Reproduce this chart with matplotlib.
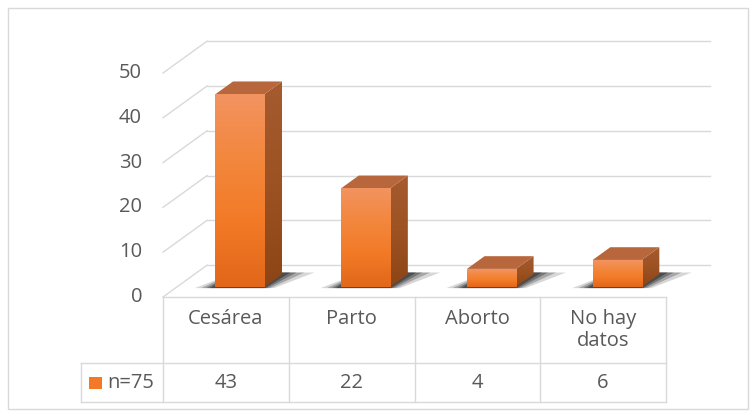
import matplotlib
matplotlib.use("Agg")
import matplotlib.pyplot as plt
import numpy as np
from matplotlib.patches import Polygon, Rectangle
from matplotlib.colors import LinearSegmentedColormap

categories = ["Cesárea", "Parto", "Aborto", "No hay\ndatos"]
values = [43, 22, 4, 6]
series_name = "n=75"
yticks = [0, 10, 20, 30, 40, 50]

TXT = "#595959"
GRID = "#D9D9D9"
FONT = "Open Sans"
FS = 14.5

# oblique depth projection (front-plane data units)
DX, DY = 0.35, 7.1
D0, D1 = 0.32, 0.72
W = 0.39


def P(x, y, d):
    return (x + DX * d, y + DY * d)


fig = plt.figure(figsize=(7.56, 4.17), dpi=100)
fig.patches.append(Rectangle((8 / 756, 8 / 417), 740 / 756, 401 / 417,
                             transform=fig.transFigure, fill=False,
                             edgecolor=GRID, lw=1.0))
ax = fig.add_axes([163 / 756, 120 / 417, 503 / 756, 224 / 417])
ax.set_xlim(-0.5, len(categories) - 0.5)
ax.set_ylim(0, 50)
ax.axis("off")

n = len(categories)
# back wall gridlines and left wall slants
for v in yticks:
    x0, y0 = P(-0.5, v, 1)
    x1, y1 = P(n - 0.5, v, 1)
    ax.plot([x0, x1], [y0, y1], color=GRID, lw=1.0, clip_on=False, zorder=1)
    xa, ya = P(-0.5, v, 0)
    ax.plot([xa, x0], [ya, y0], color=GRID, lw=1.0, clip_on=False, zorder=1)
    ax.text(-0.5 - 21 / 125.75, v, str(v), ha="right", va="center",
            fontsize=FS, color=TXT, family=FONT)

front_cmap = LinearSegmentedColormap.from_list(
    "f", ["#E2671A", "#F27A26", "#F3873D", "#F29360"])
side_cmap = LinearSegmentedColormap.from_list(
    "s", ["#8E4515", "#9C5222", "#A65B30"])

for i, v in enumerate(values):
    xl, xr = i - W / 2, i + W / 2
    # shadow on the floor
    for k, a in [(0.15, 0.18), (0.10, 0.28), (0.06, 0.38), (0.03, 0.5)]:
        sh = [P(xl - k, 0, D0 - 0.04), P(xr + k * 0.6, 0, D0 - 0.04),
              P(xr + k * 1.6, 0, D1 + 0.05), P(xl, 0, D1 + 0.05)]
        ax.add_patch(Polygon(sh, closed=True, facecolor="#262626",
                             edgecolor="none", alpha=a, zorder=2, clip_on=False))
    # side face
    side = [P(xr, 0, D0), P(xr, v, D0), P(xr, v, D1), P(xr, 0, D1)]
    sp = Polygon(side, closed=True, facecolor="none", edgecolor="none", zorder=3)
    ax.add_patch(sp)
    ex = P(xr, 0, D0)[0], P(xr, 0, D1)[0], P(xr, 0, D0)[1], P(xr, v, D1)[1]
    im = ax.imshow(np.linspace(0, 1, 100).reshape(-1, 1), cmap=side_cmap,
                   extent=ex, origin="lower", aspect="auto", zorder=3,
                   interpolation="bicubic")
    im.set_clip_path(sp)
    # top face
    top = [P(xl, v, D0), P(xr, v, D0), P(xr, v, D1), P(xl, v, D1)]
    ax.add_patch(Polygon(top, closed=True, facecolor="#B8663B",
                         edgecolor="none", zorder=3))
    # front face with gradient
    fx0, fy0 = P(xl, 0, D0)
    fx1, fy1 = P(xr, v, D0)
    fp = Rectangle((fx0, fy0), fx1 - fx0, fy1 - fy0, facecolor="none",
                   edgecolor="none", zorder=4)
    ax.add_patch(fp)
    im2 = ax.imshow(np.linspace(0, 1, 100).reshape(-1, 1), cmap=front_cmap,
                    extent=(fx0, fx1, fy0, fy1), origin="lower", aspect="auto",
                    zorder=4, interpolation="bicubic")
    im2.set_clip_path(fp)

ax.set_xlim(-0.5, n - 0.5)
ax.set_ylim(0, 50)

# data table
upp = 1 / 4.48  # value units per pixel
r1 = -66 * upp
r2 = -105 * upp
leg_x = -0.5 - 82 / 125.75
kw = dict(color=GRID, lw=1.0, clip_on=False, zorder=1)
ax.plot([-0.5, n - 0.5], [0, 0], **kw)
ax.plot([leg_x, n - 0.5], [r1, r1], **kw)
ax.plot([leg_x, n - 0.5], [r2, r2], **kw)
ax.plot([leg_x, leg_x], [r1, r2], **kw)
for j in range(n + 1):
    ax.plot([j - 0.5, j - 0.5], [0, r2], **kw)
for i, (c, v) in enumerate(zip(categories, values)):
    ax.text(i, -12 * upp, c, ha="center", va="top", fontsize=FS, color=TXT,
            family=FONT, linespacing=1.15, clip_on=False)
    ax.text(i, (r1 + r2) / 2, str(v), ha="center", va="center", fontsize=FS,
            color=TXT, family=FONT, clip_on=False)
# legend key
ax.add_patch(Rectangle((leg_x + 8 / 125.75, (r1 + r2) / 2 - 6 * upp),
                       13 / 125.75, 12 * upp, facecolor="#F27A26",
                       edgecolor="none", clip_on=False))
ax.text(leg_x + 26 / 125.75, (r1 + r2) / 2, series_name, ha="left",
        va="center", fontsize=FS, color=TXT, family=FONT, clip_on=False)

fig.savefig("out.png", dpi=100)
